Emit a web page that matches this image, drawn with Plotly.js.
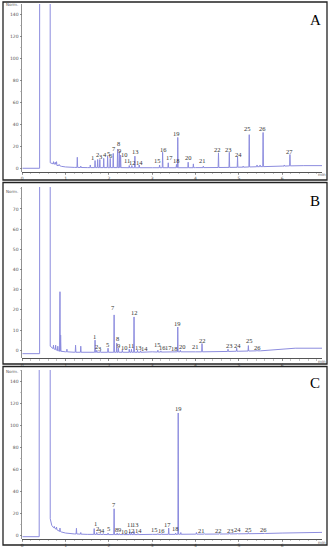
<!DOCTYPE html>
<html><head><meta charset="utf-8">
<script src="https://cdn.plot.ly/plotly-3.0.1.min.js"></script>
<style>html,body{margin:0;padding:0;background:#fff}</style>
</head><body><div id="chart" style="width:331px;height:550px"></div>
<script>
// ---------- Panel A ----------
const aBaseTime   = [0, 0.40, 0.41, 0.63, 0.645, 0.70, 0.80, 0.90, 1.00, 1.20, 1.50, 2.00, 3.00, 4.00, 5.00, 5.50, 6.00, 6.50, 6.92];
const aBaseSignal = [0, 0, 2000, 2000, 5, 3.5, 2.5, 1.8, 1.2, 0.8, 0.6, 0.5, 0.5, 0.6, 1.0, 1.5, 2.0, 2.4, 2.4];
const aPeakTime   = [0.72, 0.76, 0.79, 0.85, 1.27, 1.35, 1.57, 1.68, 1.74, 1.79, 1.88, 1.97, 2.03, 2.10, 2.20, 2.24, 2.27, 2.47, 2.53, 2.60, 2.70, 3.17, 3.24, 3.37, 3.56, 3.59, 3.83, 3.95, 4.18, 4.53, 4.78, 4.97, 5.10, 5.24, 5.42, 5.49, 5.56, 6.05, 6.18];
const aPeakBase   = [4, 3.8, 3.5, 2.5, 0.8, 0.7, 0.6, 0.6, 0.6, 0.6, 0.6, 0.6, 0.6, 0.6, 0.6, 0.6, 0.6, 0.5, 0.5, 0.5, 0.5, 0.5, 0.5, 0.5, 0.5, 0.5, 0.5, 0.5, 0.6, 0.7, 0.8, 0.9, 1.0, 1.2, 1.4, 1.5, 1.5, 2.0, 2.2];
const aPeakApex   = [6, 5.5, 6, 3.5, 10, 2, 3, 7, 8, 8, 9, 11, 9, 13.5, 17.5, 15, 12, 2.5, 2.5, 11, 3, 3, 14.5, 5, 3.5, 28, 5.5, 4, 2, 14, 14.5, 10.5, 2, 30.5, 3, 3, 32.5, 3, 12.5];
const aLabelText   = ["1","2","3","4","5","6","7","8","9","10","11","12","13","14","15","16","17","18","19","20","21","22","23","24","25","26","27"];
const aLabelTime   = [1.62, 1.73, 1.81, 1.90, 1.99, 2.05, 2.12, 2.22, 2.24, 2.36, 2.42, 2.54, 2.62, 2.70, 3.13, 3.25, 3.39, 3.56, 3.56, 3.83, 4.17, 4.50, 4.77, 4.99, 5.20, 5.54, 6.17];
const aLabelSignal = [10.0, 12.8, 10.7, 12.8, 13.4, 11.3, 17.6, 22.6, 16.1, 12.8, 7.0, 5.2, 15.5, 5.5, 6.7, 17.3, 9.4, 7.0, 31.9, 9.7, 6.7, 16.7, 16.7, 12.8, 35.9, 35.9, 15.5];

// ---------- Panel B ----------
const bBaseTime   = [0, 0.40, 0.41, 0.63, 0.645, 0.70, 0.80, 0.86, 1.00, 1.20, 2.00, 3.00, 4.00, 5.00, 5.50, 6.00, 6.30, 6.92];
const bBaseSignal = [-1.7, -1.7, 2000, 2000, 2, 1, 0, -0.5, -0.8, -1, -1, -0.8, -0.8, -0.5, -0.3, 0.5, 1, 1];
const bPeakTime   = [0.72, 0.77, 0.82, 0.87, 0.885, 1.03, 1.23, 1.35, 1.68, 1.72, 1.80, 1.98, 2.12, 2.18, 2.22, 2.31, 2.47, 2.52, 2.58, 2.66, 2.73, 3.13, 3.20, 3.59, 3.65, 4.15, 4.75, 4.95, 5.22, 5.42];
const bPeakBase   = [0.8, 0.3, -0.2, -0.5, -0.5, -0.8, -1, -1, -1, -1, -1, -1, -1, -1, -1, -1, -1, -1, -1, -1, -1, -0.9, -0.9, -0.8, -0.8, -0.8, -0.6, -0.5, -0.4, -0.3];
const bPeakApex   = [2.5, 2.5, 2, 29, 7.5, 0.5, 2.5, 2, 5, 0, -0.5, 1, 17.5, 3.5, 1, 0, 0.5, 0.5, 16.5, 0, -0.3, 0, -0.3, 11.5, 0, 3.3, 0.5, 1, 2.3, 0];
const bLabelText   = ["1","2","3","5","7","8","9","10","11","12","13","14","15","16","17","18","19","20","21","22","23","24","25","26"];
const bLabelTime   = [1.67, 1.72, 1.78, 1.96, 2.10, 2.19, 2.21, 2.35, 2.50, 2.58, 2.68, 2.81, 3.12, 3.24, 3.38, 3.52, 3.59, 3.69, 4.00, 4.17, 4.78, 4.98, 5.25, 5.43];
const bLabelSignal = [6.8, 1.8, 0.7, 2.8, 21.1, 5.9, 2.1, 1.3, 2.1, 18.7, 1.3, 0.8, 2.8, 1.5, 1.3, 0.8, 13.4, 1.7, 1.7, 4.8, 2.5, 2.5, 4.6, 1.5];

// ---------- Panel C ----------
const cBaseTime   = [0, 0.39, 0.40, 0.63, 0.645, 0.68, 0.72, 0.80, 0.90, 1.00, 1.20, 1.50, 2.00, 3.00, 4.00, 5.00, 6.00, 6.50, 6.92];
const cBaseSignal = [-1.3, -1.3, 3000, 3000, 15, 9, 7, 5, 3, 2, 1.2, 0.8, 0.6, 0.8, 1.0, 1.3, 2.0, 2.4, 2.6];
const cPeakTime   = [0.74, 0.79, 0.87, 1.25, 1.35, 1.66, 1.72, 1.80, 1.87, 1.98, 2.12, 2.19, 2.24, 2.33, 2.48, 2.52, 2.58, 2.67, 3.13, 3.22, 3.38, 3.54, 3.60, 3.66, 4.02, 4.20, 4.55, 4.78, 4.97, 5.22, 5.60];
const cPeakBase   = [6.5, 5.5, 3.5, 1.2, 1, 0.8, 0.8, 0.7, 0.7, 0.6, 0.6, 0.6, 0.6, 0.6, 0.6, 0.6, 0.6, 0.6, 0.8, 0.8, 0.8, 0.8, 0.9, 0.9, 1, 1, 1.1, 1.2, 1.3, 1.4, 1.6];
const cPeakApex   = [8, 7.5, 6.5, 6.3, 2.5, 6, 2.5, 1.5, 1.5, 2, 24, 2, 1.5, 1, 3, 2.5, 3.5, 1.5, 1.5, 1.5, 6.5, 2, 111, 2.5, 2.5, 1.5, 1.5, 1.8, 1.8, 2.5, 1.8];
const cLabelText   = ["1","2","3","4","5","7","8","9","10","11","12","13","14","15","16","17","18","19","21","22","23","24","25","26"];
const cLabelTime   = [1.68, 1.73, 1.79, 1.86, 1.98, 2.12, 2.17, 2.245, 2.36, 2.48, 2.53, 2.62, 2.69, 3.06, 3.21, 3.36, 3.53, 3.60, 4.13, 4.54, 4.80, 4.98, 5.23, 5.58];
const cLabelSignal = [10.9, 6.3, 4.2, 4.2, 6.0, 27.5, 4.8, 4.8, 3.6, 9.6, 4.0, 10.2, 4.3, 5.4, 4.5, 10.0, 6.0, 115, 4.5, 3.9, 4.5, 4.8, 4.8, 4.8];

const xTickVals = [0, 1, 2, 3, 4, 5, 6];
const aYTicks = [0, 20, 40, 60, 80, 100, 120, 140];
const bYTicks = [0, 10, 20, 30, 40, 50, 60, 70];
const cYTicks = [0, 20, 40, 60, 80, 100, 120, 140];

// ---------- build ----------
const HALF = 0.008;
function buildTrace(bt, bv, pt, pb, pa, xa, ya) {
  const pts = [];
  bt.forEach((t, i) => pts.push([t, bv[i]]));
  pt.forEach((t, i) => {
    pts.push([t - HALF, pb[i]]);
    pts.push([t, pa[i]]);
    pts.push([t + HALF, pb[i]]);
  });
  pts.sort((p, q) => p[0] - q[0]);
  return {
    x: pts.map(p => p[0]), y: pts.map(p => p[1]),
    xaxis: xa, yaxis: ya, type: 'scatter', mode: 'lines',
    line: {color: 'rgb(140,140,222)', width: 1}, hoverinfo: 'skip', showlegend: false
  };
}
const traces = [
  buildTrace(aBaseTime, aBaseSignal, aPeakTime, aPeakBase, aPeakApex, 'x', 'y'),
  buildTrace(bBaseTime, bBaseSignal, bPeakTime, bPeakBase, bPeakApex, 'x2', 'y2'),
  buildTrace(cBaseTime, cBaseSignal, cPeakTime, cPeakBase, cPeakApex, 'x3', 'y3')
];

const W = 331, H = 550;
const px = v => v / W, py = v => 1 - v / H;
const xDom = [px(22.3), px(322)];

function xAxis(anchor) {
  return {
    domain: xDom, range: [0, 6.92], anchor: anchor,
    tickvals: xTickVals, ticktext: xTickVals.map(String),
    showline: true, linecolor: '#555', linewidth: 1, showgrid: false, zeroline: false,
    ticks: 'outside', ticklen: 2, tickwidth: 0.6, tickcolor: '#666',
    minor: {dtick: 0.2, ticks: 'outside', ticklen: 1.3, tickcolor: '#888', tickwidth: 0.5},
    tickfont: {family: 'DejaVu Sans', size: 4.5, color: '#555'}, fixedrange: true
  };
}
function yAxis(anchor, dom, rng, tv, mdt) {
  return {
    domain: dom, range: rng, anchor: anchor,
    tickvals: tv, ticktext: tv.map(String),
    showline: true, linecolor: '#777', linewidth: 0.8, showgrid: false, zeroline: false,
    ticks: 'outside', ticklen: 2, tickwidth: 0.6, tickcolor: '#666',
    minor: {dtick: mdt, ticks: 'outside', ticklen: 1.2, tickcolor: '#999', tickwidth: 0.5},
    tickfont: {family: 'DejaVu Sans', size: 4.5, color: '#555'}, fixedrange: true
  };
}

const annotations = [];
function addLabels(txt, tt, ts, xr, yr) {
  txt.forEach((s, i) => annotations.push({
    x: tt[i], y: ts[i], xref: xr, yref: yr, text: s, showarrow: false,
    xanchor: 'center', yanchor: 'middle',
    font: {family: 'Liberation Serif', size: 6.5, color: '#333'}
  }));
}
addLabels(aLabelText, aLabelTime, aLabelSignal, 'x', 'y');
addLabels(bLabelText, bLabelTime, bLabelSignal, 'x2', 'y2');
addLabels(cLabelText, cLabelTime, cLabelSignal, 'x3', 'y3');

[['A', 20], ['B', 201], ['C', 383]].forEach(([t, yy]) => annotations.push({
  x: px(315), y: py(yy), xref: 'paper', yref: 'paper', text: t, showarrow: false,
  xanchor: 'center', yanchor: 'middle', font: {family: 'Liberation Serif', size: 15, color: '#000'}
}));
[5, 191, 371].forEach(yy => annotations.push({
  x: px(12), y: py(yy), xref: 'paper', yref: 'paper', text: 'Norm.', showarrow: false,
  xanchor: 'center', yanchor: 'middle', font: {family: 'DejaVu Sans', size: 4, color: '#555'}
}));
[175, 361.5, 542.5].forEach(yy => annotations.push({
  x: px(322), y: py(yy), xref: 'paper', yref: 'paper', text: 'min', showarrow: false,
  xanchor: 'center', yanchor: 'middle', font: {family: 'DejaVu Sans', size: 4, color: '#555'}
}));

const shapes = [[2, 180], [182.5, 364], [366.5, 545]].map(([t, b]) => ({
  type: 'rect', xref: 'paper', yref: 'paper', x0: px(3), x1: px(327), y0: py(b), y1: py(t),
  line: {color: '#222', width: 1.3}, fillcolor: 'rgba(0,0,0,0)'
}));

const layout = {
  width: W, height: H, margin: {l: 0, r: 0, t: 0, b: 0},
  paper_bgcolor: '#fff', plot_bgcolor: '#fff', showlegend: false,
  xaxis: xAxis('y'), xaxis2: xAxis('y2'), xaxis3: xAxis('y3'),
  yaxis: yAxis('x', [py(171.7), py(4)], [-3.1, 149.1], aYTicks, 10),
  yaxis2: yAxis('x2', [py(358.3), py(187)], [-4.0, 80.9], bYTicks, 5),
  yaxis3: yAxis('x3', [py(539), py(370)], [-3.4, 150], cYTicks, 10),
  annotations: annotations, shapes: shapes
};
Plotly.newPlot('chart', traces, layout, {displayModeBar: false, staticPlot: true});
</script></body></html>
